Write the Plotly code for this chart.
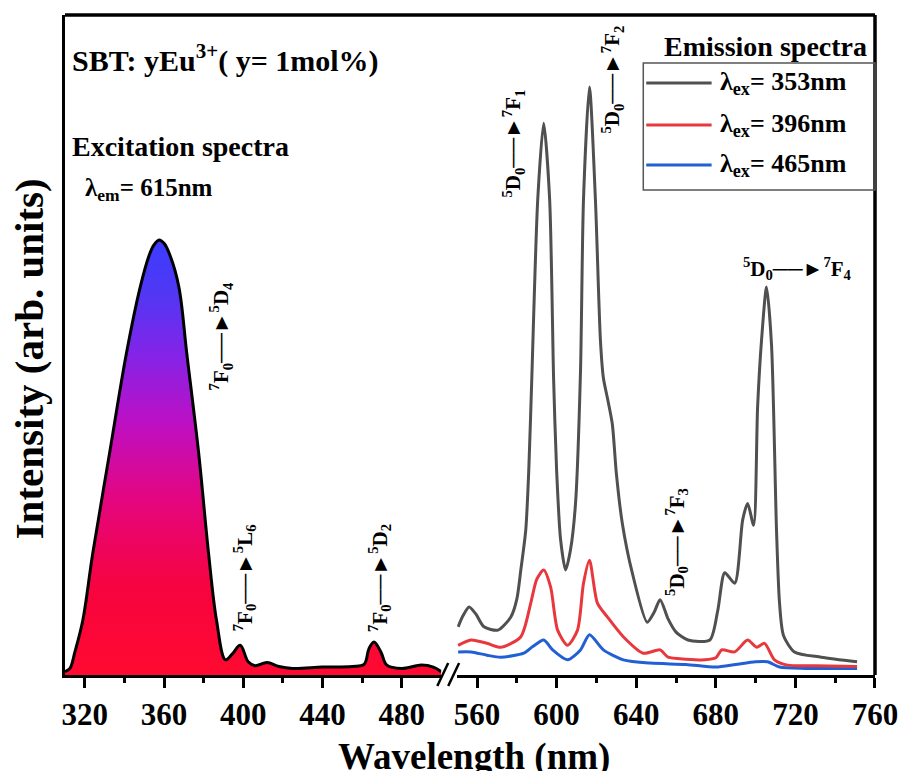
import plotly.graph_objects as go

# ---------------- data ----------------
exc_wl = [310, 312.5, 315, 319, 324, 332.5, 341, 348, 352.5, 355, 357.5, 360, 363, 367.5, 371.5, 377.5,
          382.5, 386.5, 391, 394.5, 398.5, 402.5, 406, 412, 418, 425, 440, 455, 461, 463.5,
          466, 469.5, 472.5, 480, 490, 496, 500]
exc_int = [0.5, 1.0, 3.5, 8.3, 18.4, 33.6, 48.7, 58.8, 63.6, 65.2, 65.9, 65.4, 63.6, 58.8, 48.7, 33.6,
           18.4, 8.3, 2.3, 3.2, 4.5, 2.0, 1.4, 1.9, 1.3, 1.0, 1.2, 1.3, 1.6, 4.0,
           5.0, 3.5, 1.5, 1.0, 1.5, 1.2, 0.5]

em_wl_353 = [550.5, 553, 556, 559.5, 563.5, 570.5, 577, 580, 582, 584.5, 586, 587.5, 590.5, 593.5,
             596.5, 598.5, 600, 602, 604.5, 607, 609.5, 612, 613.5, 616.5, 619.5, 622, 623.5,
             625.5, 628, 630, 633, 638, 645.5, 649, 652, 656, 660, 666, 677, 681, 684.5, 689.5,
             693.5, 696, 699, 701, 703, 705.5, 708, 710.5, 712, 714, 719.5, 733, 751]
em_int_353 = [7.3, 9.0, 10.3, 9.2, 7.3, 6.8, 8.8, 11.5, 15.9, 22, 31, 44.7, 72, 83.6,
              72, 44.7, 31, 20.5, 15.9, 19, 26, 46, 72, 89.1, 72, 50.8, 45,
              42, 38, 30.6, 23, 15.5, 8, 9.5, 11.4, 8.5, 6.5, 5.3, 5.3, 9.8, 15.5, 13.9,
              23.5, 26, 22.7, 40.6, 50.8, 58.8, 50, 22, 11, 6, 3.5, 2.7, 2.0]

em_wl_396 = [550.5, 557, 565, 572, 582, 587, 590, 593.5, 597, 600.5, 605.5, 610.5, 613.5, 616.5,
             620.5, 625.5, 633.5, 643.5, 652, 656, 665, 674.5, 680, 683, 689.5, 696, 700.5,
             704.5, 709.5, 716, 730, 751]
em_int_396 = [4.5, 5.3, 4.8, 4.2, 5.8, 10.9, 14.5, 15.9, 13.3, 6.8, 4.5, 6.8, 13.9, 17.4,
              10.9, 8.8, 5.8, 3.3, 3.8, 2.7, 2.4, 2.3, 2.6, 3.8, 3.5, 5.3, 4.2,
              4.8, 2.3, 1.5, 1.4, 1.3]

em_wl_465 = [550.5, 557, 565, 572, 583.5, 588, 593.5, 598, 605.5, 612, 616.5, 623.5, 633.5, 647,
             665, 680, 690, 700, 706, 712, 725, 751]
em_int_465 = [3.5, 3.5, 3.0, 2.7, 3.3, 4.3, 5.3, 3.8, 2.3, 3.8, 6.1, 3.8, 2.3, 1.8,
              1.6, 1.2, 1.6, 2.0, 2.0, 1.2, 1.0, 1.0]

left_ticks = [320, 360, 400, 440, 480]
left_minor = [340, 380, 420, 460]
right_ticks = [560, 600, 640, 680, 720, 760]
right_minor = [580, 620, 660, 700, 740]

series_names = ["λ<sub>ex</sub>= 353nm", "λ<sub>ex</sub>= 396nm", "λ<sub>ex</sub>= 465nm"]
series_colors = ["#505050", "#e8383e", "#2160d4"]

# ---------------- layout helpers (pixel -> paper) ----------------
W, H = 910, 771
L, R, T, B = 65, 883, 15, 675


def px(x):
    return (x - L) / (R - L)


def py(y):
    return (B - y) / (B - T)


FONT = "Liberation Serif, Times New Roman, serif"

fig = go.Figure()

fig.add_trace(go.Scatter(
    x=exc_wl, y=exc_int, xaxis="x", yaxis="y", mode="lines",
    line=dict(color="black", width=3, shape="spline", smoothing=1.0),
    fill="tozeroy",
    fillgradient=dict(type="vertical", start=0, stop=66,
                      colorscale=[[0, "#ff0a30"], [0.2, "#f7033f"], [0.4, "#e4067e"],
                                  [0.58, "#bd10c4"], [0.74, "#8224e8"], [0.88, "#4f38f4"],
                                  [1, "#3c3cff"]]),
    showlegend=False, hoverinfo="skip"))

for wl, inten, name, col in [(em_wl_465, em_int_465, series_names[2], series_colors[2]),
                             (em_wl_396, em_int_396, series_names[1], series_colors[1]),
                             (em_wl_353, em_int_353, series_names[0], series_colors[0])]:
    fig.add_trace(go.Scatter(
        x=wl, y=inten, xaxis="x2", yaxis="y", mode="lines", name=name,
        line=dict(color=col, width=3, shape="spline", smoothing=0.7),
        showlegend=False))

tickfont = dict(family=FONT, size=31, color="black", weight="bold")
axis_common = dict(showline=True, linewidth=3, linecolor="black", ticks="outside",
                   ticklen=10, tickwidth=3, tickcolor="black", showgrid=False,
                   zeroline=False, tickfont=tickfont, tickmode="array")

fig.update_layout(
    width=W, height=H,
    margin=dict(l=L, r=W - R, t=T, b=H - B),
    paper_bgcolor="white", plot_bgcolor="white",
    showlegend=False,
    xaxis=dict(domain=[0, px(445)], range=[310, 500], tickvals=left_ticks,
               minor=dict(tickmode="array", tickvals=left_minor, ticks="outside",
                          ticklen=5, tickwidth=3, tickcolor="black"),
               **axis_common),
    xaxis2=dict(domain=[px(461), 1], range=[550, 760], tickvals=right_ticks, anchor="y",
                minor=dict(tickmode="array", tickvals=right_minor, ticks="outside",
                           ticklen=5, tickwidth=3, tickcolor="black"),
                **axis_common),
    yaxis=dict(range=[0, 100], showline=True, linewidth=3, linecolor="black",
               showticklabels=False, ticks="", showgrid=False, zeroline=False),
)

shapes = [
    dict(type="line", xref="paper", yref="paper", x0=0, x1=1, y0=1, y1=1,
         line=dict(color="black", width=3.5)),
    dict(type="line", xref="paper", yref="paper", x0=1, x1=1, y0=0, y1=1,
         line=dict(color="black", width=3.5)),
    # axis break marks
    dict(type="line", xref="paper", yref="paper", x0=px(441), x1=px(452), y0=py(686), y1=py(663),
         line=dict(color="black", width=2.5)),
    dict(type="line", xref="paper", yref="paper", x0=px(452), x1=px(463), y0=py(686), y1=py(663),
         line=dict(color="black", width=2.5)),
    # legend box
    dict(type="rect", xref="paper", yref="paper", x0=px(649), x1=1, y0=py(190), y1=py(63),
         line=dict(color="#555555", width=1.5), fillcolor="rgba(0,0,0,0)"),
]
leg_y = [83, 125, 165]
for yy, col in zip(leg_y, series_colors):
    shapes.append(dict(type="line", xref="paper", yref="paper", x0=px(652), x1=px(718),
                       y0=py(yy), y1=py(yy), line=dict(color=col, width=3)))
fig.update_layout(shapes=shapes)

ann = []


def text(x, y, s, size, angle=0, xanchor="center", color="black"):
    ann.append(dict(x=px(x), y=py(y), xref="paper", yref="paper", text=s, showarrow=False,
                    xanchor=xanchor, yanchor="middle", textangle=angle,
                    font=dict(family=FONT, size=size, color=color)))


text(478, 757, "<b>Wavelength (nm)</b>", 37)
text(29, 359, "<b>Intensity (arb. units)</b>", 41, angle=-90)
text(70, 58, "<b>SBT: yEu<sup>3+</sup>( y= 1mol%)</b>", 30, xanchor="left")
text(70, 147, "<b>Excitation spectra</b>", 28, xanchor="left")
text(83, 189, "<b>λ<sub>em</sub>= 615nm</b>", 25, xanchor="left")
text(772, 47, "<b>Emission spectra</b>", 28)
for yy, name in zip(leg_y, series_names):
    text(724, yy, "<b>" + name + "</b>", 26, xanchor="left")

ARROW = "──►"
text(222, 336, "<b><sup>7</sup>F<sub>0</sub>" + ARROW + "<sup>5</sup>D<sub>4</sub></b>", 21, angle=-90)
text(246, 578, "<b><sup>7</sup>F<sub>0</sub>" + ARROW + "<sup>5</sup>L<sub>6</sub></b>", 21, angle=-90)
text(382, 578, "<b><sup>7</sup>F<sub>0</sub>" + ARROW + "<sup>5</sup>D<sub>2</sub></b>", 21, angle=-90)
text(517, 144, "<b><sup>5</sup>D<sub>0</sub>" + ARROW + "<sup>7</sup>F<sub>1</sub></b>", 21, angle=-90)
text(617, 80, "<b><sup>5</sup>D<sub>0</sub>" + ARROW + "<sup>7</sup>F<sub>2</sub></b>", 21, angle=-90)
text(682, 542, "<b><sup>5</sup>D<sub>0</sub>" + ARROW + "<sup>7</sup>F<sub>3</sub></b>", 21, angle=-90)
text(805, 268, "<b><sup>5</sup>D<sub>0</sub>" + ARROW + "<sup>7</sup>F<sub>4</sub></b>", 21)

fig.update_layout(annotations=ann)

fig.write_html("out.html")
